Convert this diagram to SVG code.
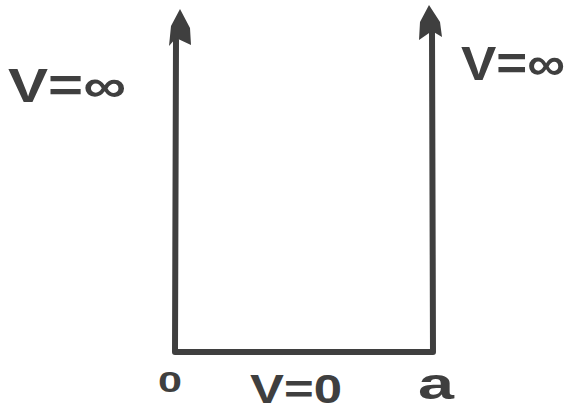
<svg xmlns="http://www.w3.org/2000/svg" width="574" height="411" viewBox="0 0 574 411">
<style>
.ln{stroke:#3f3f3f;stroke-width:6;fill:none;stroke-linecap:round;stroke-linejoin:round}
.hd{fill:#3f3f3f}
.t{font-family:"Liberation Sans",Arial,sans-serif;font-weight:bold;fill:#3f3f3f}
</style>
<rect width="574" height="411" fill="#ffffff"/>
<g id="connectors">
<path class="ln" d="M176,40 L175,352 L433,352 L432,32"/>
<polygon class="hd" points="180,9 190,28 191,45 176,38 169,46 171,26"/>
<polygon class="hd" points="429,5 440,22 442,37 432,31 419,40 420,22"/>
</g>
<g id="label-left"><text class="t" x="8" y="102" font-size="48" textLength="118" lengthAdjust="spacingAndGlyphs">V=∞</text></g>
<g id="label-right"><text class="t" x="461" y="80" font-size="48" textLength="104" lengthAdjust="spacingAndGlyphs">V=∞</text></g>
<g id="label-0"><text class="t" x="158" y="392" font-size="30" textLength="24" lengthAdjust="spacingAndGlyphs">0</text></g>
<g id="label-bottom"><text class="t" x="250" y="403" font-size="40" textLength="92" lengthAdjust="spacingAndGlyphs">V=0</text></g>
<g id="label-a"><text class="t" x="418" y="399" font-size="44" textLength="36" lengthAdjust="spacingAndGlyphs">a</text></g>
</svg>
